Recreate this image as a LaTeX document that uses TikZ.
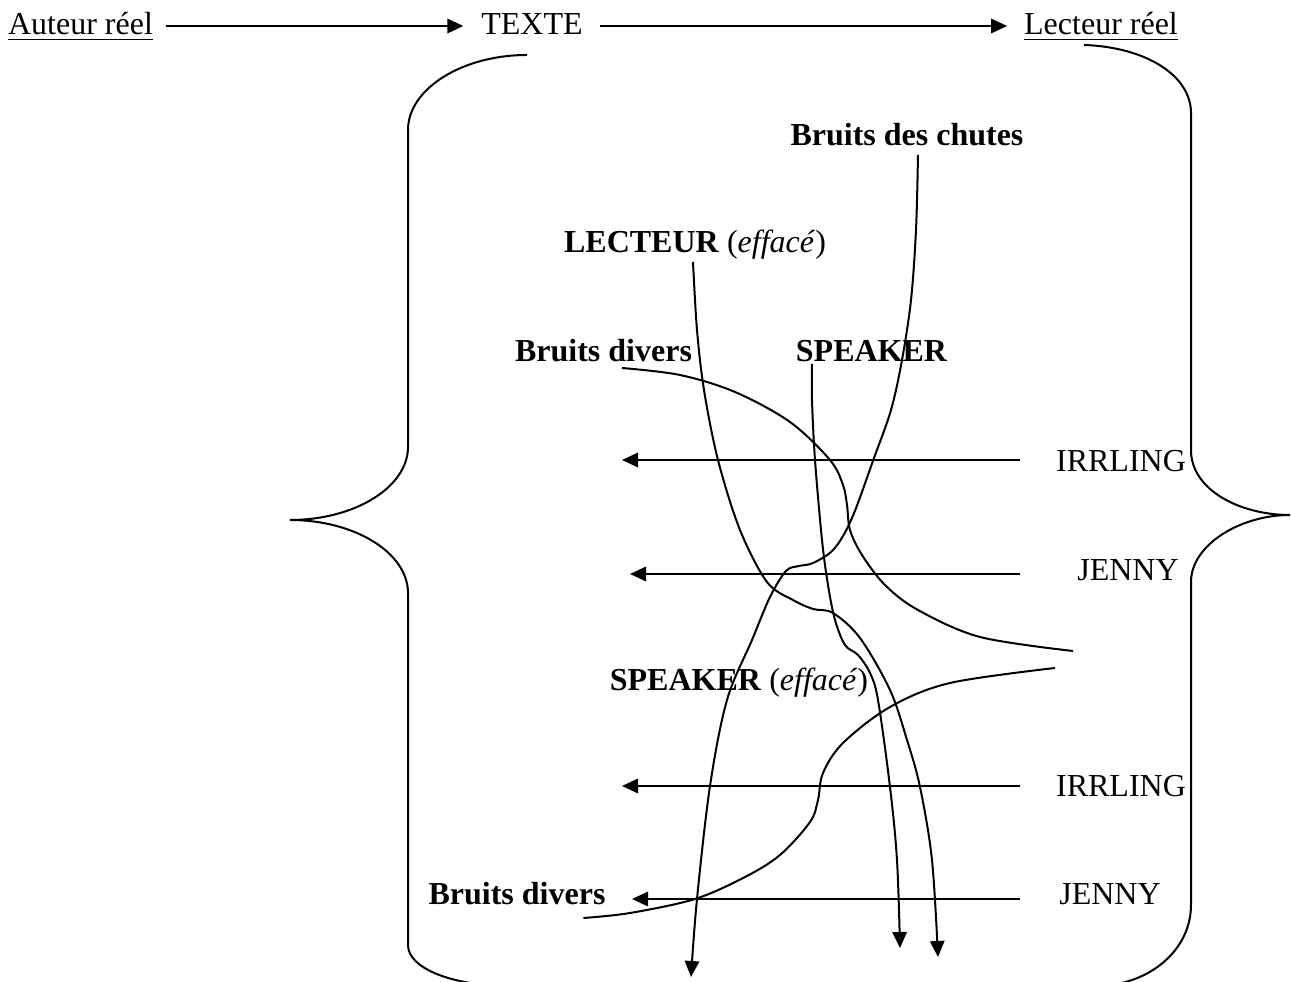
\documentclass[tikz,border=0pt]{standalone}
\usepackage{fontspec}
\setmainfont{Liberation Serif}
\usetikzlibrary{arrows.meta,calc}

\tikzset{
  lbl/.style={font=\fontsize{12}{14}\selectfont, inner sep=0pt, anchor=base},
  blbl/.style={lbl, font=\fontsize{12}{14}\selectfont\bfseries},
  arr/.style={-{Triangle[length=6pt,width=5.4pt]}},
  crv/.style={arr, smooth, tension=0.55}
}

\begin{document}
\begin{tikzpicture}[x=0.375pt,y=-0.375pt,line width=0.75pt]
    \useasboundingbox (0,0) rectangle (1291,982);
    \node[lbl] (auteur) at (80.5,35) {\underline{Auteur réel}};
    \node[lbl] (texte) at (532,35) {TEXTE};
    \node[lbl] (lecteur) at (1101,35) {\underline{Lecteur réel}};
    \draw[arr] ($(auteur.base east)+(12,-9)$) -- ($(texte.base west)+(-17,-9)$);
    \draw[arr] ($(texte.base east)+(16,-9)$) -- ($(lecteur.base west)+(-16,-9)$);
    % accolades
    \draw (527,55) .. controls (462,55) and (408,89) .. (408,130) -- (408,447)
        .. controls (408,487) and (355,520) .. (290,520)
        .. controls (355,520) and (408,553) .. (408,593) -- (408,945)
        .. controls (408,968) and (450,984) .. (500,986);
    \draw (1084,45) .. controls (1145,47) and (1191,75) .. (1191,113) -- (1191,450)
        .. controls (1191,490) and (1240,515) .. (1290,515)
        .. controls (1240,515) and (1191,545) .. (1191,582) -- (1191,905)
        .. controls (1191,950) and (1150,984) .. (1100,986);
    % etiquettes
    \node[blbl] (chutes) at (907,146) {Bruits des chutes};
    \node[lbl] (lecteff) at (695,253) {\textbf{LECTEUR} (\textit{effacé})};
    \node[blbl] (diversa) at (603.5,362) {Bruits divers};
    \node[blbl] (speaker) at (871.5,362) {SPEAKER};
    \node[lbl] (irra) at (1121,472) {IRRLING};
    \node[lbl] (jennya) at (1128,581) {JENNY};
    \node[lbl] (speff) at (739,691) {\textbf{SPEAKER} (\textit{effacé})};
    \node[lbl] (irrb) at (1121,797) {IRRLING};
    \node[lbl] (jennyb) at (1110,905) {JENNY};
    \node[blbl] (diversb) at (517,905) {Bruits divers};
    % fleches horizontales
    \foreach \n/\y/\t in {a/460/622,b/574/630,c/786/622,d/899/632} {
        \coordinate (h\n s) at (1020,\y);
        \coordinate (h\n e) at (\t,\y);
        \draw[arr] (h\n s) -- (h\n e);
    }
    % courbes
    \coordinate (ca) at ($(chutes.base)+(11,9)$);
    \coordinate (cae) at (691,977);
    \draw[crv] plot coordinates {(ca) (916,230) (911,300) (902,360) (891,410)
        (874,458) (852,518) (834,549) (813,563) (799,566) (786,571) (770,597)
        (752,640) (727,700) (710,786) (697,899) (cae)};
    \coordinate (cb) at ($(lecteff.base)+(-2,9)$);
    \coordinate (cbe) at (938,957);
    \draw[crv] plot coordinates {(cb) (697,330) (704,390) (718,460) (740,530)
        (767,582) (793,600) (813,609) (833,613) (860,638) (890,690) (907,740)
        (920,787) (932,860) (cbe)};
    \coordinate (cc) at ($(speaker.base)+(-59.5,2)$);
    \coordinate (cce) at (900,948);
    \draw[crv] plot coordinates {(cc) (812,400) (815,460) (822,540) (828,585)
        (835,620) (845,645) (858,655) (870,673) (878,700) (890,787) (897,860)
        (cce)};
    \coordinate (cd) at ($(diversa.base)+(18.5,6)$);
    \coordinate (cde) at (1073,651);
    \draw[smooth, tension=0.55] plot coordinates {(cd) (680,375) (735,392)
        (790,422) (830,460) (843,485) (847,505) (850,530) (862,555) (885,585)
        (918,610) (980,637) (cde)};
    \coordinate (ce) at (1055,668);
    \coordinate (cee) at ($(diversb.base east)+(-23,13)$);
    \draw[smooth, tension=0.55] plot coordinates {(ce) (950,683) (890,707)
        (843,743) (823,773) (818,800) (810,822) (780,855) (745,877) (695,899)
        (630,913) (cee)};
\end{tikzpicture}
\end{document}
